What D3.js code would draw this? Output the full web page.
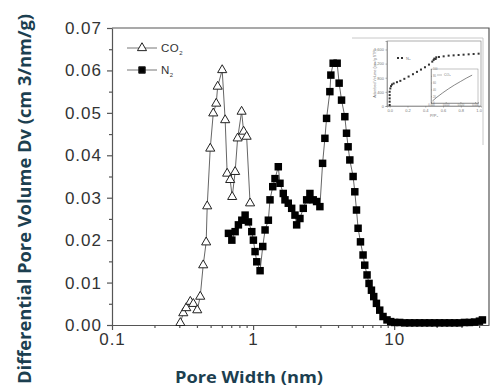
<!DOCTYPE html>
<html>
<head>
<meta charset="utf-8">
<script src="https://cdn.jsdelivr.net/npm/d3@7"></script>
<style>
  html, body { margin: 0; padding: 0; background: #fff; }
  svg { display: block; }
</style>
</head>
<body>
<div id="chart"></div>
<script>
// CO2 pore size distribution (open triangles)
const co2Width = [0.305, 0.320, 0.336, 0.359, 0.377, 0.402, 0.422, 0.443, 0.465, 0.473,
  0.497, 0.522, 0.548, 0.561, 0.604, 0.634, 0.655, 0.688, 0.711, 0.746,
  0.777, 0.829, 0.857, 0.900, 0.952];
const co2Volume = [0.0005, 0.0028, 0.0040, 0.0055, 0.0050, 0.0035, 0.0067, 0.0141, 0.0195, 0.0280,
  0.0416, 0.0499, 0.0522, 0.0562, 0.0601, 0.0483, 0.0357, 0.0342, 0.0302, 0.0361,
  0.0440, 0.0503, 0.0456, 0.0444, 0.0287];

// N2 pore size distribution (filled squares)
const n2Width = [0.669, 0.707, 0.746, 0.787, 0.832, 0.878, 0.927, 0.979, 1.005, 1.033,
  1.062, 1.121, 1.171, 1.216, 1.283, 1.318, 1.378, 1.43, 1.509, 1.551,
  1.637, 1.683, 1.776, 1.877, 1.981, 2.036, 2.148, 2.268, 2.397, 2.528,
  2.668, 2.819, 2.975, 3.109, 3.228, 3.318, 3.501, 3.558, 3.694, 3.943,
  4.073, 4.236, 4.469, 4.595, 4.716, 4.849, 5.116, 5.259, 5.407, 5.549,
  5.770, 6.019, 6.187, 6.424, 6.636, 6.901, 7.164, 7.486, 7.900, 8.334,
  8.895, 9.447, 10.08, 10.94, 11.87, 12.87, 13.96, 15.14, 16.43, 17.82,
  19.33, 20.97, 22.75, 24.68, 26.77, 29.04, 31.50, 34.17, 37.07, 40.21, 42.22];
const n2Volume = [0.0216, 0.0200, 0.0220, 0.0236, 0.0247, 0.0259, 0.0243, 0.0220, 0.0200, 0.0173,
  0.0149, 0.0128, 0.0185, 0.0224, 0.0247, 0.0295, 0.0326, 0.0345, 0.0373, 0.0334,
  0.0310, 0.0295, 0.0287, 0.0275, 0.0259, 0.0236, 0.0251, 0.0275, 0.0295, 0.0310,
  0.0295, 0.0291, 0.0279, 0.0381, 0.0440, 0.0487, 0.0550, 0.0589, 0.0617, 0.0617,
  0.0570, 0.0530, 0.0491, 0.0452, 0.0420, 0.0389, 0.0350, 0.0314, 0.0271, 0.0228,
  0.0196, 0.0165, 0.0141, 0.0118, 0.0098, 0.0082, 0.0067, 0.0051, 0.0035, 0.0020,
  0.0012, 0.0008, 0.0006, 0.0006, 0.0005, 0.0005, 0.0005, 0.0005, 0.0005, 0.0005,
  0.0005, 0.0005, 0.0005, 0.0005, 0.0005, 0.0005, 0.0006, 0.0006, 0.0007, 0.0009, 0.0012];

const yTicks = [0, 0.01, 0.02, 0.03, 0.04, 0.05, 0.06, 0.07];
const yMinorTicks = [0.005, 0.015, 0.025, 0.035, 0.045, 0.055, 0.065];
const xTicks = [0.1, 1, 10];
const xMinorTicks = [0.2, 0.3, 0.4, 0.5, 0.6, 0.7, 0.8, 0.9, 2, 3, 4, 5, 6, 7, 8, 9, 20, 30, 40];

// inset: N2 isotherm (P/P0 vs adsorbed volume)
const insetP = [0, 0, 0, 0, 0, 0.0075, 0.015, 0.026, 0.045, 0.082, 0.120, 0.165, 0.213, 0.262,
  0.307, 0.352, 0.397, 0.442, 0.479, 0.502, 0.524, 0.494, 0.517, 0.554, 0.607, 0.663,
  0.719, 0.775, 0.831, 0.888, 0.944, 1.0];
const insetVolume = [28, 122, 216, 309, 403, 497, 562, 609, 637, 675, 712, 769, 834, 900,
  966, 1031, 1097, 1172, 1256, 1341, 1378, 1303, 1331, 1388, 1406, 1425,
  1434, 1444, 1453, 1463, 1472, 1481];
const insetXTicks = [0, 0.2, 0.4, 0.6, 0.8, 1.0];
const insetYTicks = [0, 400, 800, 1200, 1600];

// inset of inset: CO2 isotherm
const subP = [0.001, 0.004, 0.008, 0.012, 0.016, 0.020, 0.024, 0.028];
const subVolume = [6, 17, 30, 42, 53, 63, 73, 82];
const subXTicks = [0, 0.01, 0.02, 0.03];
const subYTicks = [0, 20, 40, 60, 80, 100];

const WIDTH = 492, HEIGHT = 389;
const plot = { left: 112, right: 489, top: 28, bottom: 325 };
const axisColor = '#555';
const tickFont = '"Liberation Sans", Arial, sans-serif';
const titleColor = '#1c3f50';

const svg = d3.select('#chart').append('svg')
  .attr('width', WIDTH)
  .attr('height', HEIGHT);

const x = d3.scaleLog().domain([0.1, 47]).range([plot.left, plot.right]);
const y = d3.scaleLinear().domain([0, 0.07]).range([plot.bottom, plot.top]);

// frame (top + right)
svg.append('path')
  .attr('d', `M${plot.left},${plot.top}H${plot.right}V${plot.bottom}`)
  .attr('fill', 'none')
  .attr('stroke', axisColor)
  .attr('stroke-width', 1.2);

function styleAxis(g) {
  g.selectAll('.domain, .tick line').attr('stroke', axisColor).attr('stroke-width', 1.2);
  g.selectAll('text')
    .attr('fill', '#333')
    .style('font-family', tickFont)
    .style('font-size', '17px')
    .style('letter-spacing', '1px');
}

svg.append('g')
  .attr('transform', `translate(${plot.left},0)`)
  .call(d3.axisLeft(y).tickValues(yTicks).tickFormat(d3.format('.2f')).tickSize(5).tickSizeOuter(0).tickPadding(5))
  .call(styleAxis);

svg.append('g')
  .attr('transform', `translate(${plot.left},0)`)
  .call(d3.axisLeft(y).tickValues(yMinorTicks).tickFormat('').tickSize(3))
  .call(g => g.select('.domain').remove())
  .call(styleAxis);

svg.append('g')
  .attr('transform', `translate(0,${plot.bottom})`)
  .call(d3.axisBottom(x).tickValues(xTicks).tickFormat(d => String(d)).tickSize(5).tickSizeOuter(0).tickPadding(3))
  .call(styleAxis);

svg.append('g')
  .attr('transform', `translate(0,${plot.bottom})`)
  .call(d3.axisBottom(x).tickValues(xMinorTicks).tickFormat('').tickSize(3))
  .call(g => g.select('.domain').remove())
  .call(styleAxis);

// axis titles
svg.append('text')
  .attr('transform', 'translate(31,199) rotate(-90)')
  .attr('text-anchor', 'middle')
  .attr('textLength', 370)
  .attr('lengthAdjust', 'spacingAndGlyphs')
  .attr('fill', titleColor)
  .style('font-family', '"Open Sans", sans-serif')
  .style('font-weight', 700)
  .style('font-size', '17px')
  .text('Differential Pore Volume Dv (cm 3/nm/g)');

svg.append('text')
  .attr('x', 249)
  .attr('y', 383)
  .attr('text-anchor', 'middle')
  .attr('textLength', 148)
  .attr('lengthAdjust', 'spacingAndGlyphs')
  .attr('fill', titleColor)
  .style('font-family', '"Open Sans", sans-serif')
  .style('font-weight', 700)
  .style('font-size', '16px')
  .text('Pore Width (nm)');

// series
const co2 = co2Width.map((w, i) => ({ w, v: co2Volume[i] }));
const n2 = n2Width.map((w, i) => ({ w, v: n2Volume[i] }));
const line = d3.line().x(d => x(d.w)).y(d => y(d.v));

svg.append('path').datum(n2)
  .attr('d', line).attr('fill', 'none').attr('stroke', '#666').attr('stroke-width', 1);
svg.append('path').datum(co2)
  .attr('d', line).attr('fill', 'none').attr('stroke', '#666').attr('stroke-width', 1);

const square = d3.symbol(d3.symbolSquare, 56);
const triangle = d3.symbol(d3.symbolTriangle, 36);

svg.append('g').selectAll('path')
  .data(n2)
  .join('path')
  .attr('transform', d => `translate(${x(d.w)},${y(d.v)})`)
  .attr('d', square)
  .attr('fill', '#000');

svg.append('g').selectAll('path')
  .data(co2)
  .join('path')
  .attr('transform', d => `translate(${x(d.w)},${y(d.v)})`)
  .attr('d', triangle)
  .attr('fill', '#fff')
  .attr('stroke', '#222')
  .attr('stroke-width', 1);

// legend
const legend = svg.append('g').attr('transform', 'translate(127,48)');
[{ name: 'CO', sym: triangle, fill: '#fff' }, { name: 'N', sym: d3.symbol(d3.symbolSquare, 42), fill: '#000' }]
  .forEach((item, i) => {
    const row = legend.append('g').attr('transform', `translate(0,${i * 22})`);
    row.append('line').attr('x1', 0).attr('x2', 30).attr('stroke', '#777').attr('stroke-width', 1);
    row.append('path').attr('transform', 'translate(15,0)').attr('d', item.sym)
      .attr('fill', item.fill).attr('stroke', '#222').attr('stroke-width', 1);
    const t = row.append('text').attr('x', 34).attr('dy', '0.36em')
      .attr('fill', '#333')
      .style('font-family', tickFont)
      .style('font-size', '11.5px')
      .style('letter-spacing', '0.5px')
      .text(item.name);
    t.append('tspan').attr('dy', 3).style('font-size', '6px').text('2');
  });

// inset image
const insetBox = svg.append('g');
insetBox.append('path')
  .attr('d', 'M352,38H483V145')
  .attr('fill', 'none')
  .attr('stroke', '#c8c8c8')
  .attr('stroke-width', 1);

const inset = { left: 387, right: 481, top: 41, bottom: 106 };
const ix = d3.scaleLinear().domain([-0.03, 1.027]).range([inset.left, inset.right]);
const iy = d3.scaleLinear().domain([0, 1840]).range([inset.bottom, inset.top]);

function styleSmall(g, size) {
  g.selectAll('.domain, .tick line').attr('stroke', '#777').attr('stroke-width', 0.6);
  g.selectAll('text').attr('fill', '#777').style('font-family', tickFont).style('font-size', size + 'px');
}

insetBox.append('rect')
  .attr('x', inset.left).attr('y', inset.top)
  .attr('width', inset.right - inset.left).attr('height', inset.bottom - inset.top)
  .attr('fill', '#fff').attr('stroke', '#777').attr('stroke-width', 0.6);

insetBox.append('g')
  .attr('transform', `translate(0,${inset.bottom})`)
  .call(d3.axisBottom(ix).tickValues(insetXTicks).tickFormat(d3.format('.1f')).tickSize(1.5).tickPadding(1.5))
  .call(g => styleSmall(g, 4));
insetBox.append('g')
  .attr('transform', `translate(${inset.left},0)`)
  .call(d3.axisLeft(iy).tickValues(insetYTicks).tickSize(1.5).tickPadding(1.5))
  .call(g => styleSmall(g, 4));

insetBox.append('text')
  .attr('transform', `translate(376,${(inset.top + inset.bottom) / 2}) rotate(-90)`)
  .attr('text-anchor', 'middle')
  .attr('fill', '#777')
  .style('font-family', tickFont)
  .style('font-size', '3.6px')
  .text('Adsorbed Volume (cm³/g STP)');
insetBox.append('text')
  .attr('x', (inset.left + inset.right) / 2).attr('y', 117)
  .attr('text-anchor', 'middle')
  .attr('fill', '#777')
  .style('font-family', tickFont)
  .style('font-size', '4px')
  .text('P/P₀');

const iso = insetP.map((p, i) => ({ p, v: insetVolume[i] }));
insetBox.append('g').selectAll('rect')
  .data(iso)
  .join('rect')
  .attr('x', d => ix(d.p) - 1)
  .attr('y', d => iy(d.v) - 1)
  .attr('width', 2)
  .attr('height', 2)
  .attr('fill', '#333');

insetBox.append('rect').attr('x', 397).attr('y', 57).attr('width', 2).attr('height', 2).attr('fill', '#333');
insetBox.append('rect').attr('x', 401).attr('y', 57).attr('width', 2).attr('height', 2).attr('fill', '#333');
insetBox.append('text').attr('x', 406).attr('y', 59.5)
  .attr('fill', '#777').style('font-family', tickFont).style('font-size', '4px').text('N₂');

// sub inset
const sub = { left: 431, right: 478, top: 69, bottom: 103 };
const sx = d3.scaleLinear().domain([0, 0.032]).range([sub.left, sub.right]);
const sy = d3.scaleLinear().domain([0, 100]).range([sub.bottom, sub.top]);
insetBox.append('rect')
  .attr('x', sub.left).attr('y', sub.top)
  .attr('width', sub.right - sub.left).attr('height', sub.bottom - sub.top)
  .attr('fill', '#fff').attr('stroke', '#888').attr('stroke-width', 0.5);
insetBox.append('g')
  .attr('transform', `translate(0,${sub.bottom})`)
  .call(d3.axisTop(sx).tickValues(subXTicks).tickFormat(d3.format('.3f')).tickSize(1).tickPadding(-4))
  .call(g => styleSmall(g, 2.6));
insetBox.append('g')
  .attr('transform', `translate(${sub.left},0)`)
  .call(d3.axisRight(sy).tickValues(subYTicks).tickSize(1).tickPadding(1))
  .call(g => styleSmall(g, 2.6));
insetBox.append('path')
  .datum(subP.map((p, i) => ({ p, v: subVolume[i] })))
  .attr('d', d3.line().x(d => sx(d.p)).y(d => sy(d.v)))
  .attr('fill', 'none')
  .attr('stroke', '#555')
  .attr('stroke-width', 0.7);
insetBox.append('line').attr('x1', 437).attr('x2', 442).attr('y1', 75).attr('y2', 75)
  .attr('stroke', '#777').attr('stroke-width', 0.5);
insetBox.append('text').attr('x', 444).attr('y', 76.2)
  .attr('fill', '#777').style('font-family', tickFont).style('font-size', '3.5px').text('CO₂');
</script>
</body>
</html>
